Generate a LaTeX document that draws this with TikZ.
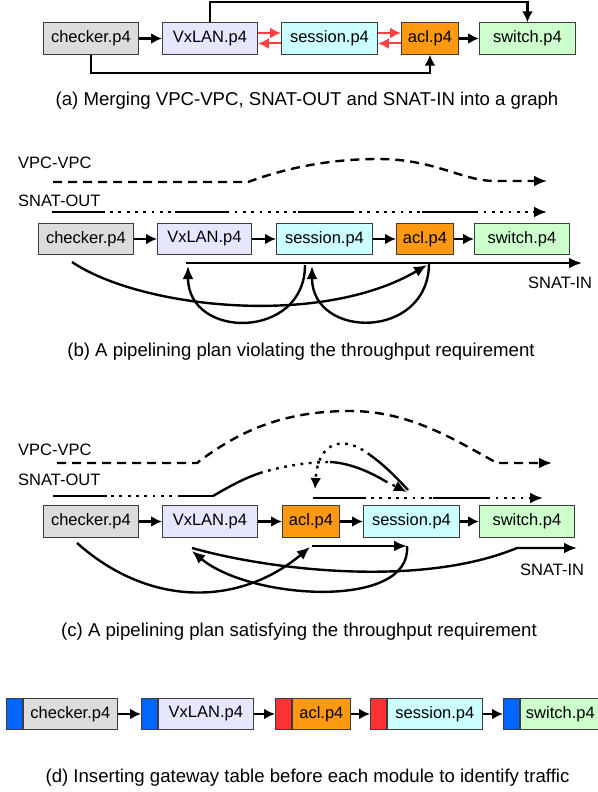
\documentclass[tikz,border=0pt]{standalone}
\usepackage{fontspec}
\setmainfont{Liberation Sans}
\usetikzlibrary{arrows.meta}
\definecolor{ckgray}{HTML}{DCDCDC}
\definecolor{vxlav}{HTML}{E6E6FF}
\definecolor{sscyan}{HTML}{CCFFFF}
\definecolor{aclor}{HTML}{FF9912}
\definecolor{swgreen}{HTML}{CCFFCC}
\definecolor{gwblue}{HTML}{0066FF}
\definecolor{gwred}{HTML}{FF3333}
\definecolor{edgeg}{HTML}{3C3C3C}
\definecolor{fbred}{HTML}{FF4040}
\newcommand{\modfont}{\fontsize{16.5}{19}\selectfont}
\newcommand{\capfont}{\fontsize{18.6}{22}\selectfont}
\tikzset{
  modbox/.style={draw=edgeg, line width=0.9pt, anchor=west, minimum height=31.5pt, inner sep=0pt, font=\modfont},
  gwbox/.style={modbox, minimum width=16pt},
  fl/.style={line width=2.4pt},
  bigtip/.style={-{Latex[length=13pt,width=11pt]}},
  sm/.style={fl, -{Latex[length=11pt,width=11pt]}},
  dsh/.style={dash pattern=on 9pt off 6pt},
  dts/.style={dash pattern=on 2.8pt off 5.5pt},
  lbl/.style={anchor=west, inner sep=0pt, font=\modfont},
  captxt/.style={font=\capfont},
}
\begin{document}
\begin{tikzpicture}[x=1pt, y=-1pt]
  \useasboundingbox (0,0) rectangle (597,792);
  % (a) merged graph
  \foreach \n/\x/\w/\c/\t in {ck/43/95/ckgray/checker.p4, vx/162/95/vxlav/VxLAN.p4, ss/281/96/sscyan/session.p4, acl/401/57/aclor/acl.p4, sw/479/96/swgreen/switch.p4}
    \node[modbox, fill=\c, minimum width=\w pt] (a\n) at (\x,38.5) {\t};
  \draw[sm] (ack) -- (avx);
  \draw[sm] (aacl) -- (asw);
  \foreach \p/\q in {vx/ss,ss/acl}{
    \draw[sm, fbred, line width=2pt] ([yshift=5.5pt]a\p.east) -- ([yshift=5.5pt]a\q.west);
    \draw[sm, fbred, line width=2pt] ([yshift=-5pt]a\q.west) -- ([yshift=-5pt]a\p.east);
  }
  \draw[sm] (avx.north) -- ++(0,-20) -| (asw.north);
  \draw[sm] (ack.south) -- ++(0,18) -| (aacl.south);
  \node[captxt] (capa) at (307,101) {(a) Merging VPC-VPC, SNAT-OUT and SNAT-IN into a graph};

  % (b) plan violating the requirement
  \foreach \n/\x/\w/\c/\t in {ck/38/95/ckgray/checker.p4, vx/157/94/vxlav/VxLAN.p4, ss/276/96/sscyan/session.p4, acl/396/57/aclor/acl.p4, sw/474/95/swgreen/switch.p4}
    \node[modbox, fill=\c, minimum width=\w pt] (b\n) at (\x,239) {\t};
  \foreach \p/\q in {ck/vx,vx/ss,ss/acl,acl/sw} \draw[sm] (b\p) -- (b\q);
  \node[lbl] (bvpc) at (18,163) {VPC-VPC};
  \node[lbl] (bout) at (18,201) {SNAT-OUT};
  \node[lbl] (bin) at (528,283) {SNAT-IN};
  \coordinate (bv0) at (53,182); \coordinate (bv1) at (547,181);
  \draw[fl,dsh,bigtip] (bv0) -- (248,182) .. controls (275,172) and (320,159) .. (378,159) .. controls (435,159) and (462,181) .. (495,181) -- (bv1);
  \coordinate (bo0) at (52,212); \coordinate (bo1) at (547,212);
  \draw[fl,dts,bigtip] (bo0) -- (bo1);
  \foreach \a/\b in {52/103,175/228,298/352,422/475} \draw[fl] (\a,212) -- (\b,212);
  \coordinate (bi0) at (186,263); \coordinate (bi1) at (582,263);
  \draw[fl,bigtip] (bi0) -- (bi1);
  \draw[fl,bigtip] (305,265) .. controls (305,340) and (188,340) .. (188,266);
  \draw[fl,bigtip] (429,263) .. controls (429,340) and (312,340) .. (312,266);
  \draw[fl,bigtip] (72,262) .. controls (140,308) and (320,328) .. (427,265);
  \node[captxt] (capb) at (301,352) {(b) A pipelining plan violating the throughput requirement};

  % (c) plan satisfying the requirement
  \foreach \n/\x/\w/\c/\t in {ck/43/95/ckgray/checker.p4, vx/162/95/vxlav/VxLAN.p4, acl/282/57/aclor/acl.p4, ss/363/96/sscyan/session.p4, sw/479/95/swgreen/switch.p4}
    \node[modbox, fill=\c, minimum width=\w pt] (c\n) at (\x,521.5) {\t};
  \foreach \p/\q in {ck/vx,vx/acl,acl/ss,ss/sw} \draw[sm] (c\p) -- (c\q);
  \node[lbl] (cvpc) at (18,450) {VPC-VPC};
  \node[lbl] (cout) at (18,480) {SNAT-OUT};
  \node[lbl] (cin) at (520,570) {SNAT-IN};
  \coordinate (cv0) at (57,463); \coordinate (cv1) at (552,463);
  \draw[fl,dsh,bigtip] (cv0) -- (197,463) .. controls (240,430) and (285,411) .. (350,411) .. controls (410,411) and (455,440) .. (497,463) -- (cv1);
  \coordinate (co0) at (53,496); \coordinate (co1) at (213,496);
  \draw[fl,dts] (co0) -- (co1);
  \foreach \a/\b in {53/107,178/213} \draw[fl] (\a,496) -- (\b,496);
  \draw[fl] (co1) .. controls (230,486) and (245,478) .. (260,473);
  \draw[fl,dts] (260,473) .. controls (280,467) and (305,462) .. (330,462);
  \draw[fl] (330,462) .. controls (350,463) and (370,472) .. (385,481);
  \draw[fl,dts,bigtip] (385,481) -- (407,492);
  \coordinate (cr0) at (408,490); \coordinate (cr1) at (315,489);
  \draw[fl] (cr0) .. controls (395,476) and (383,464) .. (370,455);
  \draw[fl,dts,sm] (370,455) .. controls (345,435) and (318,440) .. (cr1);
  \coordinate (ct0) at (313,498); \coordinate (ct1) at (543,498);
  \draw[fl,dts,bigtip] (ct0) -- (ct1);
  \foreach \a/\b in {313/365,433/488} \draw[fl] (\a,498) -- (\b,498);
  \coordinate (cb0) at (312,546); \coordinate (cb1) at (407,546);
  \draw[fl,bigtip] (cb0) -- (cb1);
  \draw[fl,bigtip] (cb1) .. controls (412,610) and (250,600) .. (192,551);
  \draw[fl,bigtip] (192,548) .. controls (270,570) and (420,588) .. (517,548) -- (577,548);
  \draw[fl,bigtip] (77,543) .. controls (150,608) and (240,606) .. (310,547);
  \node[captxt] (capc) at (299,632) {(c) A pipelining plan satisfying the throughput requirement};

  % (d) gateway tables
  \foreach \n/\x/\w/\g/\c/\t in {ck/6/94/gwblue/ckgray/checker.p4, vx/141/95/gwblue/vxlav/VxLAN.p4, acl/275/58/gwred/aclor/acl.p4, ss/370/95/gwred/sscyan/session.p4, sw/503/80/gwblue/swgreen/switch.p4}{
    \node[gwbox, fill=\g] (g\n) at (\x,714) {};
    \node[modbox, fill=\c, minimum width=\w pt] (d\n) at (g\n.east) {\t};
  }
  \foreach \p/\q in {ck/vx,vx/acl,acl/ss,ss/sw} \draw[sm] (d\p) -- (g\q);
  \node[captxt] (capd) at (307.5,778) {(d) Inserting gateway table before each module to identify traffic};
\end{tikzpicture}
\end{document}
